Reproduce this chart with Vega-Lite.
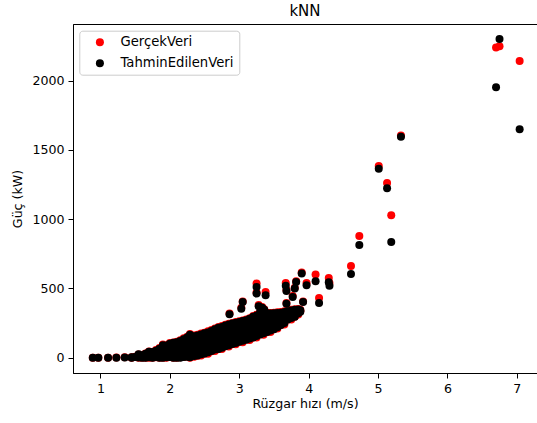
{
  "$schema": "https://vega.github.io/schema/vega-lite/v6.json",
  "width": 464,
  "height": 349,
  "autosize": {"type": "none"},
  "padding": {"left": 73, "top": 24, "right": 0, "bottom": 50},
  "background": "white",
  "config": {
    "font": "DejaVu Sans",
    "view": {"stroke": "#000", "strokeWidth": 1},
    "axis": {"grid": false, "domainColor": "#000", "tickColor": "#000", "labelColor": "#000", "titleColor": "#000", "labelFont": "DejaVu Sans", "titleFont": "DejaVu Sans", "labelFontSize": 12.6, "titleFontSize": 12.6, "titleFontWeight": "normal", "tickSize": 5, "labelPadding": 4}
  },
  "title": {"text": "kNN", "fontSize": 15, "fontWeight": "normal", "font": "DejaVu Sans", "color": "#000", "offset": 5},
  "data": {"values": [
    {"v": 0.89, "g": 0, "t": 0}, {"v": 0.97, "g": 0, "t": 0}, {"v": 1.11, "g": 0, "t": 0}, {"v": 1.23, "g": 1, "t": 0}, {"v": 1.35, "g": 2, "t": 1},
    {"v": 1.45, "g": 3, "t": 2}, {"v": 1.45, "g": 0, "t": 0}, {"v": 1.5, "g": 6, "t": 5},
    {"v": 1.55, "g": 10, "t": 12}, {"v": 1.55, "g": 0, "t": 1}, {"v": 1.55, "g": 22, "t": 25},
    {"v": 1.6, "g": 4, "t": 5}, {"v": 1.6, "g": 15, "t": 18}, {"v": 1.6, "g": 0, "t": 0},
    {"v": 1.65, "g": 30, "t": 28}, {"v": 1.65, "g": 8, "t": 10}, {"v": 1.65, "g": 0, "t": 0},
    {"v": 1.7, "g": 45, "t": 42}, {"v": 1.7, "g": 20, "t": 22}, {"v": 1.7, "g": 0, "t": 2},
    {"v": 1.75, "g": 38, "t": 40}, {"v": 1.75, "g": 12, "t": 10}, {"v": 1.75, "g": 0, "t": 0},
    {"v": 1.8, "g": 55, "t": 50}, {"v": 1.8, "g": 25, "t": 28}, {"v": 1.8, "g": 2, "t": 4},
    {"v": 1.85, "g": 70, "t": 65}, {"v": 1.85, "g": 35, "t": 38}, {"v": 1.85, "g": 5, "t": 8}, {"v": 1.85, "g": 0, "t": 0},
    {"v": 1.9, "g": 95, "t": 90}, {"v": 1.9, "g": 45, "t": 48}, {"v": 1.9, "g": 10, "t": 12}, {"v": 1.9, "g": 0, "t": 0},
    {"v": 1.95, "g": 85, "t": 88}, {"v": 1.95, "g": 55, "t": 52}, {"v": 1.95, "g": 20, "t": 18}, {"v": 1.95, "g": 0, "t": 3},
    {"v": 2.0, "g": 105, "t": 100}, {"v": 2.0, "g": 60, "t": 62}, {"v": 2.0, "g": 30, "t": 28}, {"v": 2.0, "g": 5, "t": 4},
    {"v": 2.05, "g": 110, "t": 108}, {"v": 2.05, "g": 75, "t": 72}, {"v": 2.05, "g": 40, "t": 42}, {"v": 2.05, "g": 10, "t": 8}, {"v": 2.05, "g": 0, "t": 0},
    {"v": 2.1, "g": 115, "t": 112}, {"v": 2.1, "g": 85, "t": 80}, {"v": 2.1, "g": 50, "t": 55}, {"v": 2.1, "g": 15, "t": 18}, {"v": 2.1, "g": 0, "t": 0},
    {"v": 2.15, "g": 125, "t": 120}, {"v": 2.15, "g": 90, "t": 95}, {"v": 2.15, "g": 60, "t": 58}, {"v": 2.15, "g": 25, "t": 22}, {"v": 2.15, "g": 2, "t": 0},
    {"v": 2.2, "g": 140, "t": 132}, {"v": 2.2, "g": 100, "t": 98}, {"v": 2.2, "g": 65, "t": 70}, {"v": 2.2, "g": 30, "t": 35}, {"v": 2.2, "g": 5, "t": 4},
    {"v": 2.25, "g": 150, "t": 145}, {"v": 2.25, "g": 110, "t": 108}, {"v": 2.25, "g": 75, "t": 72}, {"v": 2.25, "g": 40, "t": 38}, {"v": 2.25, "g": 8, "t": 6},
    {"v": 2.29, "g": 170, "t": 165}, {"v": 2.29, "g": 120, "t": 118}, {"v": 2.29, "g": 80, "t": 85}, {"v": 2.29, "g": 45, "t": 50}, {"v": 2.29, "g": 0, "t": 3},
    {"v": 2.35, "g": 160, "t": 155}, {"v": 2.35, "g": 125, "t": 130}, {"v": 2.35, "g": 90, "t": 88}, {"v": 2.35, "g": 50, "t": 55}, {"v": 2.35, "g": 6, "t": 12},
    {"v": 2.4, "g": 165, "t": 160}, {"v": 2.4, "g": 130, "t": 128}, {"v": 2.4, "g": 95, "t": 100}, {"v": 2.4, "g": 55, "t": 60}, {"v": 2.4, "g": 14, "t": 15},
    {"v": 2.45, "g": 175, "t": 168}, {"v": 2.45, "g": 140, "t": 135}, {"v": 2.45, "g": 100, "t": 105}, {"v": 2.45, "g": 60, "t": 58}, {"v": 2.45, "g": 15, "t": 25},
    {"v": 2.5, "g": 180, "t": 176}, {"v": 2.5, "g": 145, "t": 150}, {"v": 2.5, "g": 110, "t": 108}, {"v": 2.5, "g": 70, "t": 65}, {"v": 2.5, "g": 28, "t": 30},
    {"v": 2.55, "g": 190, "t": 182}, {"v": 2.55, "g": 155, "t": 150}, {"v": 2.55, "g": 115, "t": 120}, {"v": 2.55, "g": 75, "t": 80}, {"v": 2.55, "g": 28, "t": 38},
    {"v": 2.6, "g": 200, "t": 192}, {"v": 2.6, "g": 165, "t": 160}, {"v": 2.6, "g": 125, "t": 128}, {"v": 2.6, "g": 85, "t": 88}, {"v": 2.6, "g": 46, "t": 48},
    {"v": 2.65, "g": 210, "t": 205}, {"v": 2.65, "g": 170, "t": 175}, {"v": 2.65, "g": 135, "t": 130}, {"v": 2.65, "g": 95, "t": 92}, {"v": 2.65, "g": 48, "t": 58},
    {"v": 2.7, "g": 222, "t": 215}, {"v": 2.7, "g": 180, "t": 185}, {"v": 2.7, "g": 145, "t": 140}, {"v": 2.7, "g": 100, "t": 105}, {"v": 2.7, "g": 62, "t": 62},
    {"v": 2.75, "g": 228, "t": 222}, {"v": 2.75, "g": 190, "t": 186}, {"v": 2.75, "g": 150, "t": 155}, {"v": 2.75, "g": 110, "t": 108}, {"v": 2.75, "g": 62, "t": 72},
    {"v": 2.8, "g": 238, "t": 232}, {"v": 2.8, "g": 200, "t": 195}, {"v": 2.8, "g": 160, "t": 165}, {"v": 2.8, "g": 120, "t": 118}, {"v": 2.8, "g": 84, "t": 82},
    {"v": 2.85, "g": 245, "t": 240}, {"v": 2.85, "g": 205, "t": 210}, {"v": 2.85, "g": 170, "t": 168}, {"v": 2.85, "g": 130, "t": 135}, {"v": 2.85, "g": 80, "t": 90},
    {"v": 2.9, "g": 250, "t": 246}, {"v": 2.9, "g": 215, "t": 210}, {"v": 2.9, "g": 175, "t": 180}, {"v": 2.9, "g": 140, "t": 138}, {"v": 2.9, "g": 98, "t": 98},
    {"v": 2.95, "g": 258, "t": 252}, {"v": 2.95, "g": 220, "t": 225}, {"v": 2.95, "g": 185, "t": 182}, {"v": 2.95, "g": 150, "t": 148}, {"v": 2.95, "g": 96, "t": 106},
    {"v": 3.0, "g": 262, "t": 258}, {"v": 3.0, "g": 230, "t": 226}, {"v": 3.0, "g": 195, "t": 200}, {"v": 3.0, "g": 160, "t": 158}, {"v": 3.0, "g": 115, "t": 115},
    {"v": 3.05, "g": 268, "t": 265}, {"v": 3.05, "g": 235, "t": 238}, {"v": 3.05, "g": 205, "t": 200}, {"v": 3.05, "g": 170, "t": 172}, {"v": 3.05, "g": 112, "t": 122},
    {"v": 3.1, "g": 275, "t": 270}, {"v": 3.1, "g": 245, "t": 240}, {"v": 3.1, "g": 210, "t": 215}, {"v": 3.1, "g": 175, "t": 180}, {"v": 3.1, "g": 132, "t": 130},
    {"v": 3.15, "g": 285, "t": 280}, {"v": 3.15, "g": 250, "t": 255}, {"v": 3.15, "g": 220, "t": 218}, {"v": 3.15, "g": 185, "t": 188}, {"v": 3.15, "g": 128, "t": 138},
    {"v": 3.2, "g": 300, "t": 295}, {"v": 3.2, "g": 265, "t": 260}, {"v": 3.2, "g": 230, "t": 235}, {"v": 3.2, "g": 195, "t": 190}, {"v": 3.2, "g": 146, "t": 146},
    {"v": 3.25, "g": 310, "t": 305}, {"v": 3.25, "g": 275, "t": 280}, {"v": 3.25, "g": 240, "t": 238}, {"v": 3.25, "g": 205, "t": 210}, {"v": 3.25, "g": 146, "t": 156},
    {"v": 3.3, "g": 330, "t": 328}, {"v": 3.3, "g": 290, "t": 285}, {"v": 3.3, "g": 250, "t": 255}, {"v": 3.3, "g": 215, "t": 212}, {"v": 3.3, "g": 170, "t": 168},
    {"v": 3.35, "g": 340, "t": 335}, {"v": 3.35, "g": 300, "t": 305}, {"v": 3.35, "g": 265, "t": 260}, {"v": 3.35, "g": 225, "t": 230}, {"v": 3.35, "g": 166, "t": 176},
    {"v": 3.4, "g": 325, "t": 320}, {"v": 3.4, "g": 295, "t": 300}, {"v": 3.4, "g": 270, "t": 265}, {"v": 3.4, "g": 235, "t": 238}, {"v": 3.4, "g": 186, "t": 186},
    {"v": 3.45, "g": 322, "t": 318}, {"v": 3.45, "g": 300, "t": 298}, {"v": 3.45, "g": 275, "t": 278}, {"v": 3.45, "g": 245, "t": 240}, {"v": 3.45, "g": 186, "t": 196},
    {"v": 3.5, "g": 325, "t": 320}, {"v": 3.5, "g": 305, "t": 300}, {"v": 3.5, "g": 280, "t": 285}, {"v": 3.5, "g": 250, "t": 255}, {"v": 3.5, "g": 206, "t": 205},
    {"v": 3.55, "g": 328, "t": 322}, {"v": 3.55, "g": 305, "t": 310}, {"v": 3.55, "g": 285, "t": 282}, {"v": 3.55, "g": 260, "t": 258}, {"v": 3.55, "g": 210, "t": 220},
    {"v": 3.6, "g": 330, "t": 325}, {"v": 3.6, "g": 310, "t": 308}, {"v": 3.6, "g": 290, "t": 288}, {"v": 3.6, "g": 270, "t": 265}, {"v": 3.6, "g": 236, "t": 236},
    {"v": 3.65, "g": 335, "t": 330}, {"v": 3.65, "g": 315, "t": 318}, {"v": 3.65, "g": 295, "t": 300}, {"v": 3.65, "g": 275, "t": 278}, {"v": 3.65, "g": 240, "t": 250},
    {"v": 3.7, "g": 340, "t": 335}, {"v": 3.7, "g": 320, "t": 325}, {"v": 3.7, "g": 300, "t": 302}, {"v": 3.7, "g": 275, "t": 276},
    {"v": 3.75, "g": 345, "t": 340}, {"v": 3.75, "g": 325, "t": 328}, {"v": 3.75, "g": 305, "t": 300}, {"v": 3.75, "g": 276, "t": 286},
    {"v": 3.8, "g": 350, "t": 345}, {"v": 3.8, "g": 330, "t": 332}, {"v": 3.8, "g": 310, "t": 315}, {"v": 3.8, "g": 296, "t": 296},
    {"v": 3.85, "g": 352, "t": 348}, {"v": 3.85, "g": 335, "t": 338}, {"v": 3.85, "g": 312, "t": 320},
    {"v": 3.88, "g": 345, "t": 342}, {"v": 3.88, "g": 335, "t": 332},
    {"v": 3.28, "g": 380, "t": 372}, {"v": 3.33, "g": 365, "t": 360}, {"v": 3.36, "g": 350, "t": 345},
    {"v": 3.05, "g": 405, "t": 402}, {"v": 3.03, "g": 360, "t": 354}, {"v": 2.86, "g": 318, "t": 313},
    {"v": 3.25, "g": 535, "t": 510}, {"v": 3.25, "g": 470, "t": 463}, {"v": 3.38, "g": 474, "t": 450},
    {"v": 3.67, "g": 539, "t": 520}, {"v": 3.68, "g": 490, "t": 482}, {"v": 3.68, "g": 395, "t": 390},
    {"v": 3.77, "g": 445, "t": 438}, {"v": 3.82, "g": 552, "t": 547}, {"v": 3.8, "g": 505, "t": 499},
    {"v": 3.82, "g": 335, "t": 330}, {"v": 3.9, "g": 615, "t": 607}, {"v": 3.92, "g": 405, "t": 402},
    {"v": 3.97, "g": 540, "t": 523}, {"v": 4.1, "g": 600, "t": 551}, {"v": 4.15, "g": 431, "t": 395},
    {"v": 4.29, "g": 576, "t": 545}, {"v": 4.3, "g": 540, "t": 520}, {"v": 4.61, "g": 662, "t": 605},
    {"v": 4.73, "g": 879, "t": 814}, {"v": 5.01, "g": 1385, "t": 1364}, {"v": 5.13, "g": 1261, "t": 1224},
    {"v": 5.19, "g": 1029, "t": 836}, {"v": 5.33, "g": 1605, "t": 1595},
    {"v": 6.7, "g": 2240, "t": 1954}, {"v": 6.75, "g": 2250, "t": 2302}, {"v": 7.04, "g": 2142, "t": 1650}
  ]},
  "transform": [{"fold": ["g", "t"], "as": ["seri", "guc"]}],
  "mark": {"type": "circle", "size": 64, "opacity": 1},
  "encoding": {
    "x": {"field": "v", "type": "quantitative", "title": "Rüzgar hızı (m/s)",
      "scale": {"domain": [0.605, 7.29], "nice": false, "zero": false},
      "axis": {"values": [1, 2, 3, 4, 5, 6, 7], "format": "d", "titlePadding": 3}},
    "y": {"field": "guc", "type": "quantitative", "title": "Güç (kW)",
      "scale": {"domain": [-111, 2410], "nice": false, "zero": false},
      "axis": {"values": [0, 500, 1000, 1500, 2000], "format": "d", "titlePadding": 7}},
    "color": {"field": "seri", "type": "nominal",
      "scale": {"domain": ["g", "t"], "range": ["#ff0000", "#000000"]},
      "legend": {"title": null, "orient": "none", "legendX": 6.3, "legendY": 6.7,
        "labelExpr": "datum.label == 'g' ? 'GerçekVeri' : 'TahminEdilenVeri'",
        "labelFontSize": 13.2, "labelFont": "DejaVu Sans", "labelColor": "#000",
        "symbolType": "circle", "symbolSize": 64, "symbolStrokeWidth": 0, "symbolOpacity": 1,
        "padding": 5, "symbolOffset": 9, "labelOffset": 14, "rowPadding": 7,
        "fillColor": "rgba(255,255,255,0.8)", "strokeColor": "#cccccc", "cornerRadius": 3}},
    "order": {"field": "seri", "type": "nominal", "sort": "ascending"}
  }
}
